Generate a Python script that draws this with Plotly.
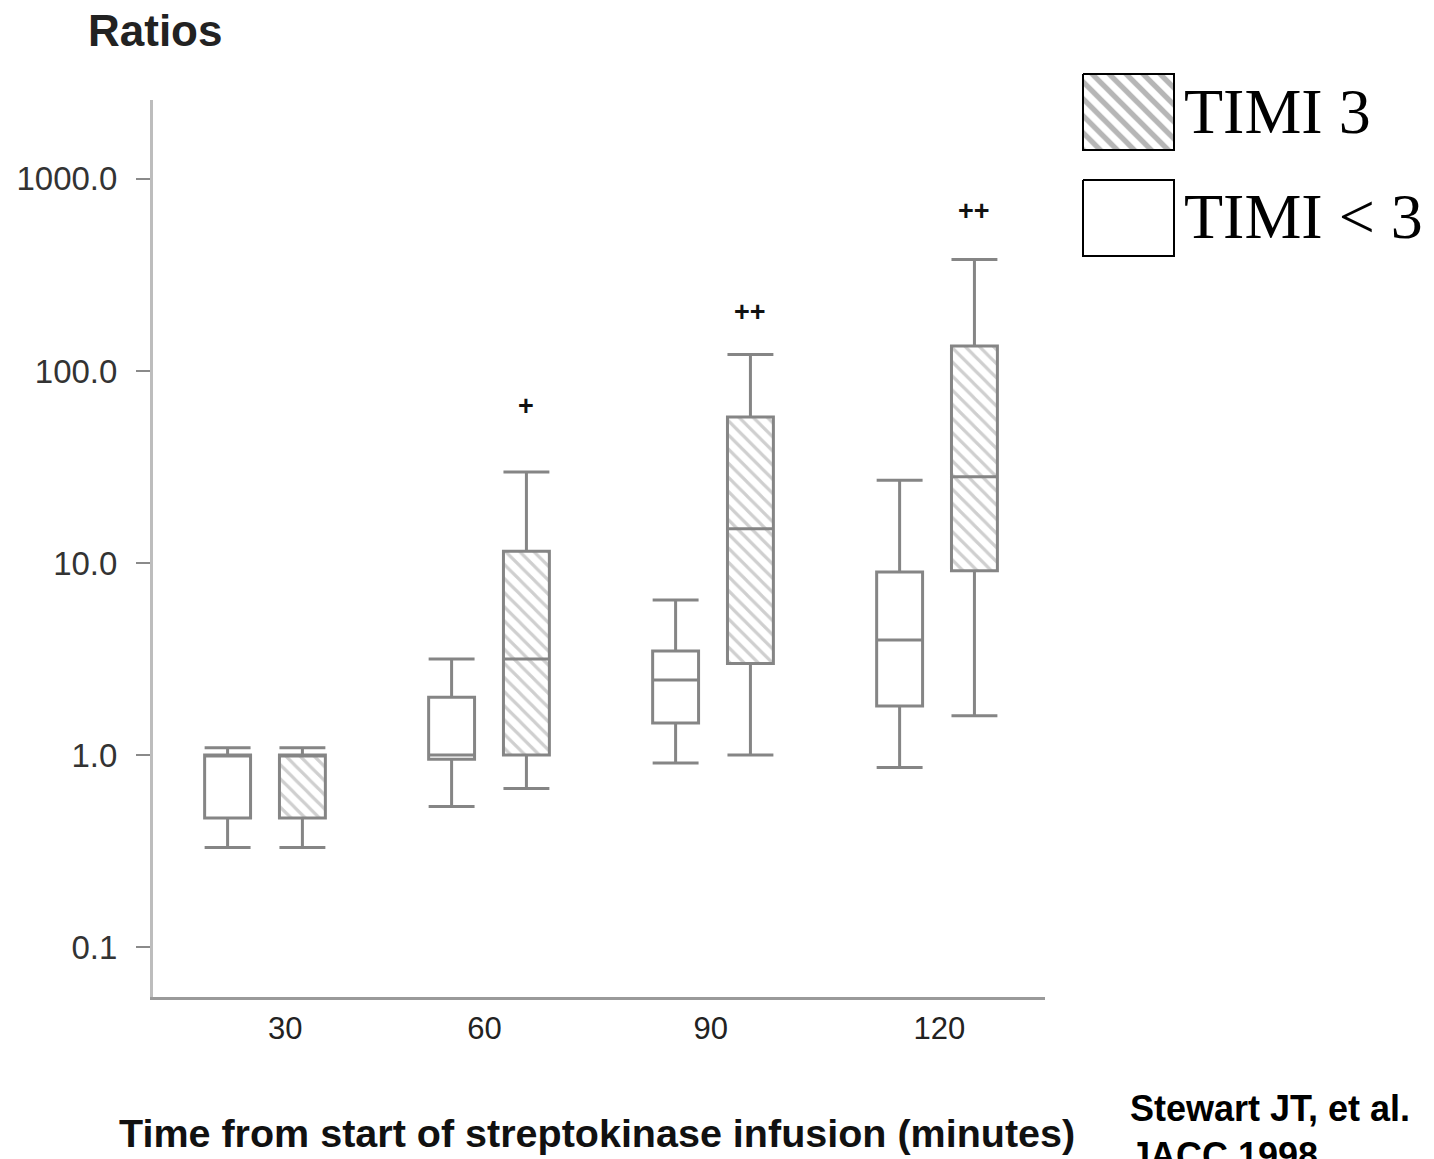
import math
import plotly.graph_objects as go

# Sampling times (minutes after start of streptokinase infusion)
times = ["30", "60", "90", "120"]

# TIMI 3 flow: lower whisker, quartiles, median, upper whisker
timi3_low = [0.33, 0.67, 1.0, 1.6]
timi3_q1 = [0.47, 1.0, 3.0, 9.1]
timi3_med = [1.0, 3.16, 15.1, 28.1]
timi3_q3 = [1.0, 11.5, 57.5, 135.0]
timi3_high = [1.09, 29.8, 122.0, 381.0]

# TIMI < 3 flow
lt3_low = [0.33, 0.54, 0.91, 0.86]
lt3_q1 = [0.47, 0.95, 1.47, 1.80]
lt3_med = [1.0, 1.0, 2.46, 3.97]
lt3_q3 = [1.0, 2.0, 3.48, 8.97]
lt3_high = [1.09, 3.16, 6.42, 27.0]

# significance markers above the TIMI 3 boxes
significance = ["", "+", "++", "++"]

y_ticks = [0.1, 1, 10, 100, 1000]
y_tick_text = ["0.1", "1.0", "10.0", "100.0", "1000.0"]

W, H = 1434, 1159
SANS = "Arial, Liberation Sans, sans-serif"
SERIF = "Times New Roman, Liberation Serif, serif"
BOX_LINE = "#858585"

groups = list(range(len(times)))
offset = 0.167
box_w = 0.205
x_lt3 = [g - offset for g in groups]
x_t3 = [g + offset for g in groups]

fig = go.Figure()

# hatched fill of TIMI 3 boxes (spans q1..q3)
fig.add_trace(go.Bar(
    x=x_t3, base=timi3_q1,
    y=[hi - lo for lo, hi in zip(timi3_q1, timi3_q3)],
    width=box_w,
    marker=dict(color="white", line=dict(width=0),
                pattern=dict(shape="\\", fgcolor="#a0a0a0", bgcolor="white",
                             size=10, solidity=0.32)),
    showlegend=False, hoverinfo="skip",
))

# TIMI < 3 boxes
fig.add_trace(go.Box(
    x=x_lt3, q1=lt3_q1, median=lt3_med, q3=lt3_q3,
    lowerfence=lt3_low, upperfence=lt3_high,
    orientation="v", width=box_w, whiskerwidth=1,
    fillcolor="white", line=dict(color=BOX_LINE, width=3),
    boxpoints=False, showlegend=False, name="TIMI < 3",
))

# TIMI 3 boxes (transparent so the hatching shows through)
fig.add_trace(go.Box(
    x=x_t3, q1=timi3_q1, median=timi3_med, q3=timi3_q3,
    lowerfence=timi3_low, upperfence=timi3_high,
    orientation="v", width=box_w, whiskerwidth=1,
    fillcolor="rgba(0,0,0,0)", line=dict(color=BOX_LINE, width=3),
    boxpoints=False, showlegend=False, name="TIMI 3",
))

# legend keys drawn in a pixel-space overlay
fig.add_trace(go.Scatter(
    x=[1083, 1174, 1174, 1083, 1083], y=[74, 74, 150, 150, 74],
    xaxis="x2", yaxis="y2", mode="lines", fill="toself",
    fillcolor="white",
    fillpattern=dict(shape="\\", fgcolor="#6e6e6e", bgcolor="white",
                     size=12, solidity=0.45),
    line=dict(color="black", width=2), showlegend=False, hoverinfo="skip",
))
fig.add_trace(go.Scatter(
    x=[1083, 1174, 1174, 1083, 1083], y=[180, 180, 256, 256, 180],
    xaxis="x2", yaxis="y2", mode="lines", fill="toself",
    fillcolor="white",
    line=dict(color="black", width=2), showlegend=False, hoverinfo="skip",
))

annotations = []
# significance markers
sig_shift = [0, 66, 42, 48]
for g, mark in enumerate(significance):
    if mark:
        annotations.append(dict(
            x=x_t3[g], y=math.log10(timi3_high[g]),
            xref="x", yref="y", text=f"<b>{mark}</b>", showarrow=False,
            yshift=sig_shift[g], font=dict(family=SANS, size=27, color="#111"),
        ))

# axis title, y-axis caption, legend labels and citation
annotations += [
    dict(x=155 / W, y=1 - 30 / H, xref="paper", yref="paper", text="<b>Ratios</b>",
         showarrow=False, xanchor="center", yanchor="middle",
         font=dict(family=SANS, size=44, color="#222")),
    dict(x=597 / W, y=1 - 1133 / H, xref="paper", yref="paper",
         text="<b>Time from start of streptokinase infusion (minutes)</b>",
         showarrow=False, xanchor="center", yanchor="middle",
         font=dict(family=SANS, size=39.5, color="#111")),
    dict(x=1182 / W, y=1 - 112 / H, xref="paper", yref="paper", text="TIMI 3",
         showarrow=False, xanchor="left", yanchor="middle",
         font=dict(family=SERIF, size=64, color="black")),
    dict(x=1182 / W, y=1 - 217 / H, xref="paper", yref="paper", text="TIMI &lt; 3",
         showarrow=False, xanchor="left", yanchor="middle",
         font=dict(family=SERIF, size=64, color="black")),
    dict(x=1128 / W, y=1 - 1086 / H, xref="paper", yref="paper",
         text="<b>Stewart JT, et al.</b><br><b>JACC 1998</b>",
         showarrow=False, xanchor="left", yanchor="top", align="left",
         font=dict(family=SANS, size=36, color="black")),
]

label_nudge = [0.09, -0.02, -0.01, 0.01]

fig.update_layout(
    width=W, height=H,
    margin=dict(l=0, r=0, t=0, b=0),
    paper_bgcolor="white", plot_bgcolor="rgba(0,0,0,0)",
    boxmode="overlay", barmode="overlay",
    showlegend=False,
    xaxis=dict(
        domain=[153 / W, 1045 / W],
        range=[-0.5, 3.482],
        tickvals=[g + n for g, n in zip(groups, label_nudge)],
        ticktext=times,
        ticks="", ticklabelstandoff=2,
        tickfont=dict(family=SANS, size=31, color="#222"),
        showline=True, linecolor="#9a9a9a", linewidth=3,
        showgrid=False, zeroline=False,
    ),
    yaxis=dict(
        domain=[1 - 997 / H, 1 - 100 / H],
        type="log",
        range=[-1.260, 3.411],
        tickvals=y_ticks, ticktext=y_tick_text,
        ticks="outside", ticklen=14, tickwidth=2, tickcolor="#8a8a8a",
        ticklabelstandoff=12,
        tickfont=dict(family=SANS, size=33, color="#333"),
        showline=True, linecolor="#bdbdbd", linewidth=3,
        showgrid=False, zeroline=False,
    ),
    xaxis2=dict(domain=[0, 1], range=[0, W], visible=False, anchor="y2"),
    yaxis2=dict(domain=[0, 1], range=[H, 0], visible=False, anchor="x2"),
    annotations=annotations,
)

fig.write_html("out.html")
